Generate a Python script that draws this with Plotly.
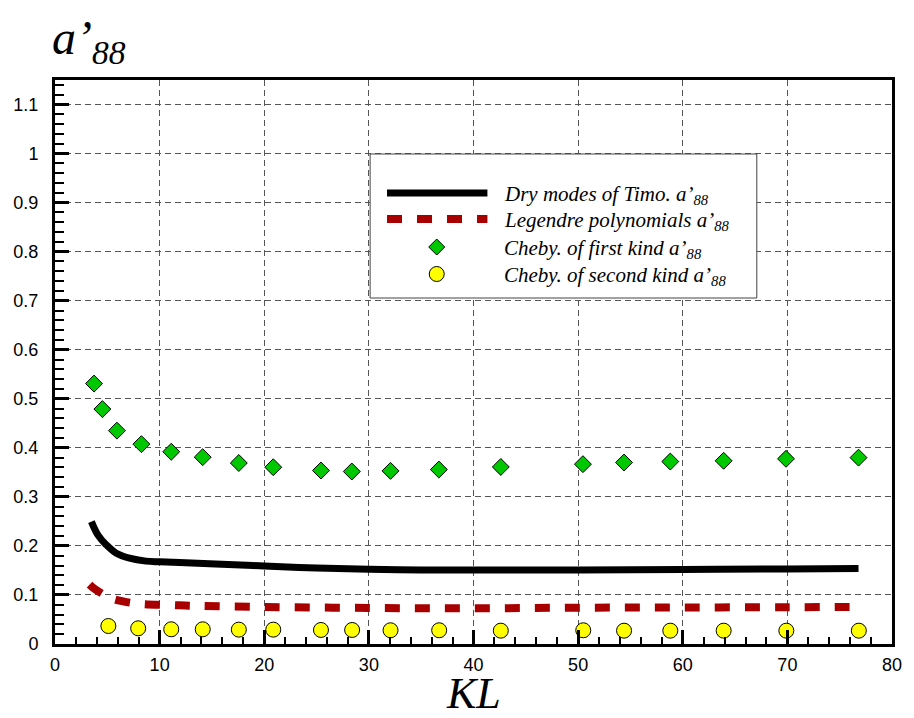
import plotly.graph_objects as go

# ---- data ----
kl_dry = [3.48, 4.11, 4.91, 5.86, 7.12, 8.7, 10.0, 11.9, 15.35, 20.0, 25.0, 30.0, 35.0, 40.0, 50.0, 60.0, 70.0, 76.8]
a88_dry = [0.2496, 0.222, 0.202, 0.185, 0.175, 0.169, 0.1675, 0.166, 0.163, 0.159, 0.155, 0.1524, 0.151, 0.151, 0.151, 0.152, 0.153, 0.154]

kl_leg = [3.3, 3.8, 5.3, 6.5, 8.1, 11.0, 13.8, 20.0, 30.0, 40.0, 50.0, 60.0, 70.0, 76.8]
a88_leg = [0.121, 0.112, 0.094, 0.087, 0.082, 0.0796, 0.0776, 0.0755, 0.0735, 0.0728, 0.074, 0.0745, 0.075, 0.0755]

kl_ch1 = [3.73, 4.53, 5.92, 8.26, 11.11, 14.12, 17.57, 20.86, 25.42, 28.37, 32.07, 36.69, 42.61, 50.46, 54.39, 58.81, 63.91, 69.87, 76.8]
a88_ch1 = [0.531, 0.479, 0.435, 0.4075, 0.392, 0.381, 0.369, 0.3605, 0.3537, 0.3517, 0.353, 0.3557, 0.361, 0.3667, 0.370, 0.372, 0.3735, 0.3776, 0.380]

kl_ch2 = [5.1, 7.95, 11.11, 14.12, 17.57, 20.86, 25.42, 28.4, 32.07, 36.72, 42.61, 50.49, 54.39, 58.81, 63.91, 69.9, 76.83]
a88_ch2 = [0.0367, 0.032, 0.030, 0.030, 0.0293, 0.0293, 0.0286, 0.0286, 0.028, 0.028, 0.0272, 0.028, 0.0272, 0.0272, 0.0272, 0.0272, 0.0272]

legend_names = ["Dry modes of Timo. a’", "Legendre polynomials a’",
                "Cheby. of first kind a’", "Cheby. of second kind a’"]

x_ticks = [0, 10, 20, 30, 40, 50, 60, 70, 80]
y_ticks = [0, 0.1, 0.2, 0.3, 0.4, 0.5, 0.6, 0.7, 0.8, 0.9, 1, 1.1]
y_tick_text = ["0", "0.1", "0.2", "0.3", "0.4", "0.5", "0.6", "0.7", "0.8", "0.9", "1", "1.1"]

# ---- layout geometry (pixels) ----
W, H = 914, 718
L, R, T, B = 55, 17, 80, 74
PW, PH = W - L - R, H - T - B

def px(xp):
    return (xp - L) / PW

def py(yp):
    return (H - B - yp) / PH

RED = "#a80000"
GREEN = "#00c800"
YELLOW = "#ffff00"
SERIF = "Liberation Serif, Times New Roman, serif"

fig = go.Figure()
fig.add_trace(go.Scatter(x=kl_dry, y=a88_dry, mode="lines", line=dict(color="black", width=7, shape="spline"),
                         name=legend_names[0], showlegend=False))
fig.add_trace(go.Scatter(x=kl_leg, y=a88_leg, mode="lines", line=dict(color=RED, width=8, dash="15px,15px", shape="spline"),
                         name=legend_names[1], showlegend=False))
fig.add_trace(go.Scatter(x=kl_ch1, y=a88_ch1, mode="markers",
                         marker=dict(symbol="diamond", size=13, color=GREEN, line=dict(color="black", width=1)),
                         name=legend_names[2], showlegend=False))
fig.add_trace(go.Scatter(x=kl_ch2, y=a88_ch2, mode="markers",
                         marker=dict(symbol="circle", size=15, color=YELLOW, line=dict(color="black", width=1)),
                         name=legend_names[3], showlegend=False))

axis_common = dict(
    showline=True, linecolor="black", linewidth=3, mirror=True,
    ticks="inside", ticklen=14, tickwidth=3, tickcolor="black",
    showgrid=True, gridcolor="#555555", gridwidth=1, griddash="6px,4px",
    zeroline=False,
    tickfont=dict(family="Liberation Sans, Arial, sans-serif", size=18, color="black"),
)

fig.update_xaxes(range=[0, 80], tickvals=x_ticks, ticktext=[str(v) for v in x_ticks],
                 minor=dict(dtick=2, tick0=0, ticks="inside", ticklen=7, tickwidth=1.5, tickcolor="black", showgrid=False),
                 ticklabelstandoff=2, **axis_common)
fig.update_yaxes(range=[0, 1.15], tickvals=y_ticks, ticktext=y_tick_text,
                 minor=dict(dtick=0.02, tick0=0, ticks="inside", ticklen=9, tickwidth=1.5, tickcolor="black", showgrid=False),
                 ticklabelstandoff=10, **axis_common)

shapes = []
annotations = []

# legend box
shapes.append(dict(type="rect", xref="paper", yref="paper", x0=px(372), x1=px(761), y0=py(298), y1=py(154),
                   line=dict(color="#444444", width=1), fillcolor="white", layer="above"))
rows_y = [193, 219, 247, 274]
# line samples
shapes.append(dict(type="line", xref="paper", yref="paper", x0=px(389), x1=px(490), y0=py(rows_y[0]), y1=py(rows_y[0]),
                   line=dict(color="black", width=7), layer="above"))
shapes.append(dict(type="line", xref="paper", yref="paper", x0=px(389), x1=px(490), y0=py(rows_y[1]), y1=py(rows_y[1]),
                   line=dict(color=RED, width=8, dash="15px,15px"), layer="above"))
# marker samples
shapes.append(dict(type="path", xref="paper", yref="paper", xsizemode="pixel", ysizemode="pixel",
                   xanchor=px(439), yanchor=py(rows_y[2]),
                   path="M -8 0 L 0 8 L 8 0 L 0 -8 Z", fillcolor=GREEN, line=dict(color="black", width=1), layer="above"))
shapes.append(dict(type="circle", xref="paper", yref="paper", xsizemode="pixel", ysizemode="pixel",
                   xanchor=px(439), yanchor=py(rows_y[3]), x0=-7.5, x1=7.5, y0=-7.5, y1=7.5,
                   fillcolor=YELLOW, line=dict(color="black", width=1), layer="above"))
for name, ry in zip(legend_names, rows_y):
    annotations.append(dict(xref="paper", yref="paper", x=px(505), y=py(ry + 2), xanchor="left", yanchor="middle",
                            text=f"<i>{name}<sub>88</sub></i>", showarrow=False,
                            font=dict(family=SERIF, size=21, color="black")))

# title a'88
annotations.append(dict(xref="paper", yref="paper", x=px(50), y=py(41), xanchor="left", yanchor="middle",
                        text="<i>a’<sub>88</sub></i>", showarrow=False,
                        font=dict(family=SERIF, size=48, color="black")))
# x-axis title KL
annotations.append(dict(xref="paper", yref="paper", x=0.5, y=py(693), xanchor="center", yanchor="middle",
                        text="<i>KL</i>", showarrow=False,
                        font=dict(family=SERIF, size=44, color="black")))

fig.update_layout(
    width=W, height=H,
    margin=dict(l=L, r=R, t=T, b=B, pad=0),
    paper_bgcolor="white", plot_bgcolor="white",
    showlegend=False,
    shapes=shapes, annotations=annotations,
)

fig.write_html("out.html")
